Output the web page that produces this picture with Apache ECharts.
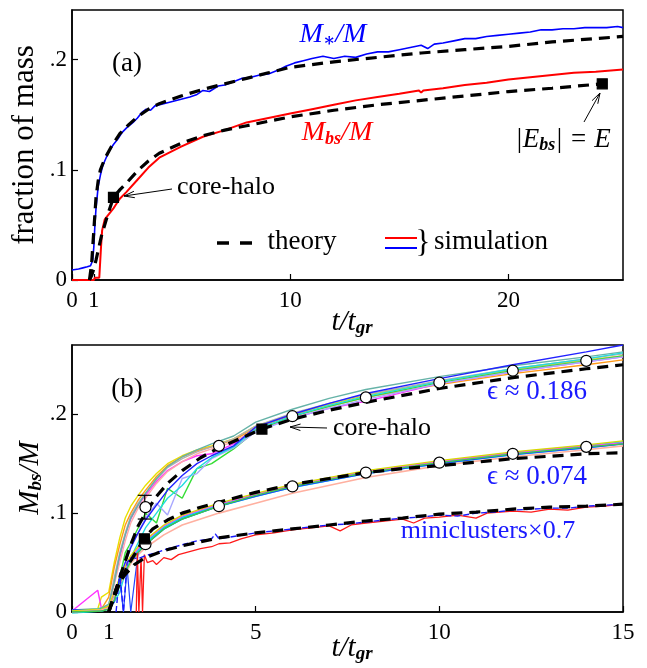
<!DOCTYPE html>
<html>
<head>
<meta charset="utf-8">
<script src="https://cdn.jsdelivr.net/npm/echarts@6.0.0/dist/echarts.min.js"></script>
<style>
  html, body { margin: 0; background: #fff; }
  #chart { width: 647px; height: 668px; }
</style>
</head>
<body>
<div id="chart"></div>
<script>
// ---- panel (a): fraction of mass vs t/t_gr ----
const tBlueA = [0,0.3,0.5,0.7,0.85,0.95,1.0,1.05,1.1,1.15,1.2,1.3,1.4,1.5,1.7,1.9,2.1,2.3,2.5,2.8,3.0,3.2,3.4,3.6,3.8,4.2,4.6,5.0,5.4,5.7,6.0,6.3,6.7,7.0,7.4,7.8,8.2,8.6,9.0,9.4,9.8,10.2,10.6,11.0,11.5,12.0,12.5,13.0,13.5,14.0,14.5,15.0,15.5,16.0,16.3,16.6,17.0,17.5,18.0,18.5,19.0,19.5,20.0,20.5,21.0,21.5,22.0,22.5,23.0,23.5,24.0,24.5,25.0,25.25];
const vBlueA = [0.009,0.010,0.011,0.012,0.013,0.018,0.03,0.05,0.065,0.075,0.085,0.095,0.103,0.108,0.117,0.123,0.128,0.134,0.138,0.143,0.147,0.152,0.155,0.154,0.158,0.160,0.162,0.164,0.166,0.168,0.172,0.171,0.176,0.177,0.180,0.183,0.184,0.186,0.187,0.190,0.194,0.197,0.199,0.201,0.203,0.201,0.203,0.202,0.205,0.207,0.207,0.209,0.211,0.213,0.210,0.214,0.215,0.217,0.219,0.219,0.221,0.222,0.223,0.224,0.225,0.227,0.227,0.228,0.228,0.229,0.229,0.229,0.230,0.229];

const tRedA = [0,1.0,1.05,1.25,1.3,1.33,1.38,1.5,1.7,1.9,2.0,2.2,2.5,3,3.5,4,4.5,5,6,7,8,9,10,11,12,13,14,15,15.9,16.0,16.1,17,18,19,20,21,22,23,24,25.25];
const vRedA = [0,0,0.002,0.002,0.003,0.03,0.045,0.055,0.06,0.065,0.068,0.074,0.08,0.091,0.102,0.111,0.116,0.121,0.13,0.136,0.143,0.147,0.151,0.155,0.159,0.163,0.166,0.169,0.172,0.170,0.172,0.174,0.177,0.179,0.182,0.184,0.186,0.188,0.189,0.191];

const tStarThA = [0.8,0.9,1.0,1.1,1.2,1.3,1.5,1.8,2.2,2.6,3,3.5,4,5,6,7,8,9,10,12,14,16,18,20,22,25.25];
const vStarThA = [0,0.015,0.045,0.075,0.09,0.1,0.11,0.121,0.133,0.141,0.148,0.155,0.16,0.167,0.173,0.178,0.183,0.188,0.193,0.198,0.202,0.206,0.209,0.212,0.216,0.221];

const tBsThA = [0.8,0.9,1.0,1.1,1.2,1.35,1.5,1.65,1.9,2.2,2.5,3,3.5,4,5,6,7,8,10,12,14,16,18,20,22,24.3,24.8];
const vBsThA = [0,0.004,0.01,0.018,0.027,0.04,0.05,0.06,0.075,0.082,0.088,0.099,0.108,0.115,0.124,0.131,0.136,0.14,0.148,0.154,0.159,0.163,0.167,0.171,0.174,0.178,0.179];

const squaresA = [[1.9, 0.075], [24.3, 0.178]];
const xTicksA = [0, 1, 10, 20];

// ---- panel (b): M_bs/M vs t/t_gr ----
const tUpB = [0,0.7,0.8,1.0,1.15,1.3,1.45,1.6,1.8,2.0,2.3,2.6,3.0,3.4,3.8,4.4,5,6,7,8,10,12,14,15];
const upperRuns = [
  [0.001,0.003,0.015,0.02,0.05,0.075,0.095,0.107,0.118,0.128,0.14,0.15,0.158,0.164,0.168,0.175,0.188,0.2,0.21,0.219,0.233,0.245,0.255,0.259],
  [0.001,0.002,0.003,0.015,0.045,0.068,0.088,0.1,0.113,0.123,0.137,0.148,0.157,0.163,0.167,0.174,0.186,0.199,0.208,0.217,0.23,0.241,0.25,0.255],
  [0.001,0.022,0.004,0.006,0.03,0.055,0.078,0.094,0.108,0.118,0.132,0.143,0.152,0.158,0.16,0.17,0.184,0.196,0.206,0.213,0.231,0.243,0.253,0.258],
  [0.001,0.002,0.003,0.006,0.028,0.05,0.072,0.09,0.105,0.115,0.13,0.142,0.152,0.16,0.165,0.172,0.185,0.198,0.208,0.217,0.232,0.244,0.254,0.259],
  [0.002,0.003,0.004,0.007,0.035,0.06,0.08,0.097,0.11,0.12,0.134,0.146,0.155,0.162,0.167,0.175,0.188,0.201,0.211,0.22,0.234,0.246,0.256,0.261],
  [0.002,0.003,0.004,0.008,0.03,0.058,0.078,0.095,0.108,0.12,0.135,0.147,0.157,0.164,0.17,0.178,0.192,0.205,0.216,0.225,0.238,0.249,0.258,0.263],
  [0.001,0.002,0.003,0.005,0.015,0.035,0.06,0.07,0.085,0.1,0.09,0.125,0.115,0.145,0.15,0.165,0.183,0.198,0.208,0.217,0.232,0.244,0.254,0.259],
  [0.001,0.002,0.003,0.004,0.012,0.03,0.05,0.068,0.08,0.095,0.11,0.098,0.135,0.14,0.155,0.166,0.182,0.196,0.206,0.215,0.231,0.243,0.253,0.258],
  [0.001,0.002,0.002,0.003,0.01,0.02,0.04,0.055,0.07,0.085,0.1,0.115,0.128,0.145,0.156,0.167,0.185,0.198,0.209,0.218,0.233,0.246,0.256,0.262],
  [0.002,0.002,0.003,0.004,0.015,0.035,0.05,0.065,0.08,0.093,0.108,0.123,0.138,0.15,0.158,0.168,0.187,0.2,0.211,0.221,0.236,0.25,0.263,0.27]
];
const upperColors = ['#e8e000','#ff9a1a','#ff33ff','#ffaaaa','#b0b0b0','#66b3a8','#33dd33','#a8a8ff','#22dddd','#2222ff'];

const tMidB = [0,0.8,1.0,1.15,1.3,1.4,1.5,1.6,1.8,2.0,2.5,3,4,5,6,8,10,12,14,15];
const middleRuns = [
  [0,0.002,0.004,0.015,0.03,0.038,0.045,0.052,0.062,0.07,0.085,0.095,0.108,0.118,0.127,0.141,0.151,0.16,0.167,0.171],
  [0,0.002,0.005,0.018,0.033,0.041,0.048,0.055,0.064,0.072,0.087,0.097,0.109,0.119,0.128,0.142,0.152,0.161,0.168,0.171],
  [0.001,0.003,0.006,0.02,0.035,0.043,0.05,0.057,0.066,0.073,0.088,0.098,0.11,0.12,0.129,0.143,0.153,0.162,0.169,0.173],
  [0,0.002,0.004,0.014,0.028,0.035,0.042,0.049,0.058,0.065,0.078,0.088,0.1,0.11,0.12,0.136,0.148,0.157,0.164,0.168],
  [0,0.001,0.003,0.01,0.035,0,0.045,0,0.06,0.068,0.084,0.094,0.107,0.117,0.126,0.14,0.15,0.159,0.166,0.17],
  [0,0.001,0.003,0.012,0.03,0.037,0.044,0.051,0.06,0.068,0.084,0.094,0.107,0.118,0.127,0.141,0.151,0.16,0.167,0.17]
];
const middleColors = ['#00e5e5','#ff44ff','#d8d800','#ffb0a0','#2244ff','#44cc44'];
const middleWidths = [3.5, 1.3, 1.3, 1.6, 1.2, 1.3];

const tMiniBlue = [1.2,1.3,1.4,1.5,1.6,1.8,2.0,2.3,2.6,3.0,3.4,3.8,3.9,4.0,4.5,5,5.5,6,6.5,7,7.5,8,8.5,9,9.5,10,10.5,11,11.5,12,12.5,13,13.5,14,14.5,15];
const vMiniBlue = [0,0.04,0,0.05,0.055,0.054,0.057,0.06,0.064,0.068,0.072,0.074,0.079,0.074,0.077,0.08,0.082,0.084,0.086,0.088,0.089,0.091,0.093,0.095,0.096,0.098,0.097,0.1,0.101,0.103,0.104,0.105,0.105,0.107,0.108,0.109];
const tMiniRed = [1.75,1.78,1.82,1.88,1.92,1.97,2.05,2.2,2.3,2.5,2.7,2.9,3.1,3.3,3.5,3.8,4.0,4.3,4.6,5,5.5,6,6.5,7,7.3,7.6,8,8.5,9,9.3,9.6,10,10.5,11,11.3,12,12.5,13,13.5,14,14.5,15];
const vMiniRed = [0,0.06,0,0.055,0,0.058,0.05,0.052,0.048,0.055,0.053,0.058,0.06,0.062,0.064,0.066,0.069,0.07,0.074,0.078,0.08,0.083,0.085,0.087,0.082,0.088,0.09,0.092,0.094,0.09,0.095,0.096,0.098,0.095,0.1,0.102,0.101,0.104,0.103,0.106,0.107,0.109];

const tUpThB = [1.0,1.3,1.6,1.8,2.0,2.3,2.6,3,3.5,4,5.17,6,7,8,10,12,14,15];
const vUpThB = [0,0.035,0.068,0.087,0.1,0.117,0.13,0.143,0.156,0.166,0.185,0.195,0.204,0.212,0.226,0.237,0.246,0.25];
const tMidThB = [1.0,1.2,1.4,1.6,1.8,1.95,2.2,2.6,3,3.5,4,5,6,7,8,9,10,12,14,15];
const vMidThB = [0,0.02,0.038,0.052,0.064,0.074,0.084,0.093,0.1,0.106,0.111,0.121,0.129,0.135,0.141,0.145,0.148,0.155,0.16,0.161];
const tMiniThB = [1.0,1.1,1.25,1.45,1.7,2.0,2.5,3,3.5,4,5,6,7,8,9,10,11,12,13,14,15];
const vMiniThB = [0,0.012,0.028,0.038,0.048,0.055,0.062,0.067,0.071,0.075,0.08,0.084,0.088,0.092,0.095,0.099,0.101,0.104,0.106,0.107,0.109];

const tCircB = [2, 4, 6, 8, 10, 12, 14];
const vCircUp = [0.106, 0.168, 0.198, 0.217, 0.232, 0.244, 0.254];
const vCircMid = [0.0686, 0.107, 0.127, 0.141, 0.151, 0.160, 0.167];
const squaresB = [[5.17, 0.185], [1.97, 0.074]];
const errBarsB = [[1.98, 0.094, 0.118]];
const xTicksB = [0, 1, 5, 10, 15];
const yTicks = [0, 0.1, 0.2];

// ---- helpers ----
const SERIF = '"Liberation Serif", "DejaVu Serif", serif';
const zip = (t, v) => t.map((x, i) => [x, v[i]]);
const dash = [11, 7];

function lineSeries(ax, data, color, width, type, z) {
  return {
    type: 'line', xAxisIndex: ax, yAxisIndex: ax, data: data,
    showSymbol: false, symbol: 'none', silent: true, animation: false, z: z || 2,
    lineStyle: { color: color, width: width, type: type || 'solid' }
  };
}
function scatterSeries(ax, data, symbol, size, fill, z) {
  return {
    type: 'scatter', xAxisIndex: ax, yAxisIndex: ax, data: data,
    symbol: symbol, symbolSize: size, silent: true, animation: false, z: z,
    itemStyle: { color: fill, borderColor: '#000', borderWidth: 1.2, opacity: 1 }
  };
}
function xAxis(idx, max, ticks) {
  return {
    gridIndex: idx, type: 'value', min: 0, max: max,
    axisLine: { show: true, onZero: false, lineStyle: { color: '#000', width: 1.5 } },
    axisTick: { show: true, inside: true, length: 6, customValues: ticks, lineStyle: { color: '#000', width: 1.2 } },
    axisLabel: { customValues: ticks, margin: 9, color: '#000', fontFamily: SERIF, fontSize: 23 },
    splitLine: { show: false }
  };
}
function yAxis(idx, max) {
  return {
    gridIndex: idx, type: 'value', min: 0, max: max,
    axisLine: { show: true, onZero: false, lineStyle: { color: '#000', width: 1.5 } },
    axisTick: { show: true, inside: true, length: 6, customValues: yTicks, lineStyle: { color: '#000', width: 1.2 } },
    axisLabel: {
      customValues: yTicks, margin: 5, color: '#000', fontFamily: SERIF, fontSize: 23,
      formatter: v => v === 0 ? '0' : '.' + Math.round(v * 10)
    },
    splitLine: { show: false }
  };
}

// ---- series ----
const series = [];
upperRuns.forEach((run, i) => series.push(lineSeries(1, zip(tUpB, run), upperColors[i], 1.4, 'solid', 1)));
middleRuns.forEach((run, i) => series.push(lineSeries(1, zip(tMidB, run), middleColors[i], middleWidths[i], 'solid', 1)));
series.push(lineSeries(1, zip(tMiniRed, vMiniRed), '#ff1a1a', 1.3, 'solid', 1));
series.push(lineSeries(1, zip(tMiniBlue, vMiniBlue), '#1a1aff', 1.4, [6, 3], 1));
series.push(lineSeries(1, zip(tUpThB, vUpThB), '#000', 3.2, dash, 3));
series.push(lineSeries(1, zip(tMidThB, vMidThB), '#000', 3.2, dash, 3));
series.push(lineSeries(1, zip(tMiniThB, vMiniThB), '#000', 3.2, dash, 3));
series.push({
  type: 'custom', xAxisIndex: 1, yAxisIndex: 1, data: errBarsB, z: 4, silent: true, animation: false,
  encode: { x: 0, y: [1, 2] },
  renderItem: (params, api) => {
    const lo = api.coord([api.value(0), api.value(1)]);
    const hi = api.coord([api.value(0), api.value(2)]);
    const w = 7, st = { stroke: '#000', lineWidth: 1.2 };
    return { type: 'group', children: [
      { type: 'line', shape: { x1: lo[0], y1: lo[1], x2: hi[0], y2: hi[1] }, style: st },
      { type: 'line', shape: { x1: hi[0] - w, y1: hi[1], x2: hi[0] + w, y2: hi[1] }, style: st },
      { type: 'line', shape: { x1: lo[0] - w, y1: lo[1], x2: lo[0] + w, y2: lo[1] }, style: st }
    ] };
  }
});
series.push(scatterSeries(1, zip(tCircB, vCircUp), 'circle', 11, '#fff', 5));
series.push(scatterSeries(1, zip(tCircB, vCircMid), 'circle', 11, '#fff', 5));
series.push(scatterSeries(1, squaresB, 'rect', 10, '#000', 6));

series.push(lineSeries(0, zip(tRedA, vRedA), '#ff0000', 2, 'solid', 1));
series.push(lineSeries(0, zip(tBlueA, vBlueA), '#0000ff', 1.6, 'solid', 1));
series.push(lineSeries(0, zip(tStarThA, vStarThA), '#000', 3.2, dash, 3));
series.push(lineSeries(0, zip(tBsThA, vBsThA), '#000', 3.2, dash, 3));
series.push(scatterSeries(0, squaresA, 'rect', 10, '#000', 6));

// ---- annotations ----
function txt(x, y, text, size, color, extra) {
  return Object.assign({
    type: 'text', x: x, y: y, z: 100, silent: true,
    style: Object.assign({
      text: text, fill: color || '#000', fontFamily: SERIF, fontSize: size,
      align: 'center', verticalAlign: 'middle'
    }, (extra && extra.style) || {})
  }, extra && extra.rotation ? { rotation: extra.rotation } : {});
}
function subText(x, y, parts, size, color, rotation) {
  // parts: [text, isSub]
  const s = parts.map(p => (p[1] ? '{s|' : '{m|') + p[0] + '}').join('');
  return txt(x, y, s, size, color, {
    rotation: rotation,
    style: {
      rich: {
        m: { fontFamily: SERIF, fontSize: size, fontStyle: 'italic', lineHeight: size + 2 },
        s: { fontFamily: SERIF, fontSize: Math.round(size * 0.66), fontStyle: 'italic', fontWeight: 'bold', lineHeight: 9, verticalAlign: 'bottom' }
      }
    }
  });
}
function arrow(x1, y1, x2, y2) {
  const a = Math.atan2(y2 - y1, x2 - x1), L = 11, h = 0.3;
  const p1 = [x2 - L * Math.cos(a - h), y2 - L * Math.sin(a - h)];
  const p2 = [x2 - L * Math.cos(a + h), y2 - L * Math.sin(a + h)];
  const st = { stroke: '#000', lineWidth: 1, fill: null };
  return [
    { type: 'line', z: 100, silent: true, shape: { x1: x1, y1: y1, x2: x2, y2: y2 }, style: st },
    { type: 'polyline', z: 100, silent: true, shape: { points: [p1, [x2, y2], p2] }, style: st }
  ];
}

const graphic = [
  txt(25, 145, 'fraction of mass', 31, '#000', { rotation: Math.PI / 2 }),
  subText(30, 478, [['M', 0], ['bs', 1], ['/M', 0]], 29, '#000', Math.PI / 2),
  subText(352, 322, [['t/t', 0], ['gr', 1]], 29, '#000'),
  subText(352, 648, [['t/t', 0], ['gr', 1]], 29, '#000'),
  txt(127, 64, '(a)', 27),
  subText(333, 35, [['M', 0], ['∗', 1], ['/M', 0]], 28, '#0000ff'),
  subText(337, 133, [['M', 0], ['bs', 1], ['/M', 0]], 28, '#ff0000'),
  subText(563, 140, [['|E', 0], ['bs', 1], ['| = E', 0]], 27, '#000'),
  txt(226, 187, 'core-halo', 26),
  { type: 'line', z: 100, silent: true, shape: { x1: 217, y1: 243, x2: 252, y2: 243 }, style: { stroke: '#000', lineWidth: 3.4, lineDash: [12, 11] } },
  txt(302, 242, 'theory', 27),
  { type: 'line', z: 100, silent: true, shape: { x1: 385, y1: 238, x2: 417, y2: 238 }, style: { stroke: '#ff0000', lineWidth: 2 } },
  { type: 'line', z: 100, silent: true, shape: { x1: 385, y1: 248, x2: 417, y2: 248 }, style: { stroke: '#0000ff', lineWidth: 2 } },
  txt(423, 244, '}', 31),
  txt(491, 242, 'simulation', 27),
  txt(127, 390, '(b)', 27),
  txt(537, 392, 'ϵ ≈ 0.186', 27, '#1a1aff'),
  txt(537, 477, 'ϵ ≈ 0.074', 27, '#1a1aff'),
  txt(488, 531, 'miniclusters×0.7', 26, '#1a1aff'),
  txt(382, 428, 'core-halo', 26)
].concat(arrow(172, 189, 124, 196), arrow(584, 122, 600, 93), arrow(327, 428, 290, 427));

const chart = echarts.init(document.getElementById('chart'), null, { renderer: 'canvas' });
chart.setOption({
  animation: false,
  backgroundColor: '#fff',
  grid: [
    { left: 72, top: 10, width: 551, height: 270, show: true, borderColor: '#000', borderWidth: 1.5, backgroundColor: 'transparent' },
    { left: 72, top: 345, width: 551, height: 267, show: true, borderColor: '#000', borderWidth: 1.5, backgroundColor: 'transparent' }
  ],
  xAxis: [xAxis(0, 25.25, xTicksA), xAxis(1, 15, xTicksB)],
  yAxis: [yAxis(0, 0.245), yAxis(1, 0.27)],
  series: series,
  graphic: graphic
});
</script>
</body>
</html>
